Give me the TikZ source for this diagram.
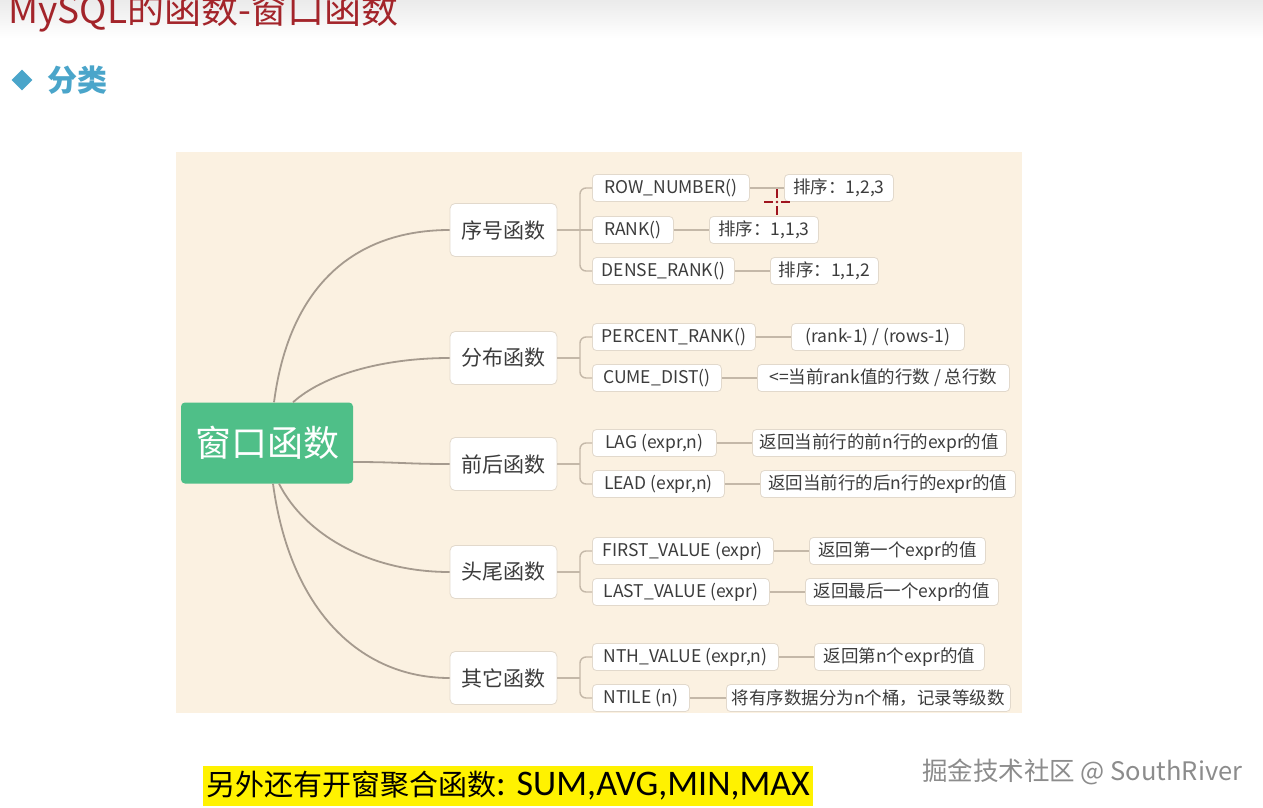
\documentclass[tikz,border=0pt]{standalone}
\usepackage{fontspec}
\setmainfont{Noto Sans CJK SC}
\newfontfamily\carl{Carlito}
\usetikzlibrary{shapes.geometric}
\definecolor{panel}{RGB}{251,241,225}
\definecolor{curvec}{RGB}{165,154,142}
\definecolor{brc}{RGB}{196,184,168}
\definecolor{boxc}{RGB}{226,217,204}
\definecolor{rootc}{RGB}{79,191,136}
\definecolor{titlered}{RGB}{163,36,42}
\definecolor{bluec}{RGB}{74,165,202}
\definecolor{textc}{RGB}{60,60,60}
\definecolor{cursorc}{RGB}{160,20,30}
\definecolor{wmc}{RGB}{140,140,140}
\begin{document}
\begin{tikzpicture}[x=1pt,y=-1pt,
  root/.style={fill=rootc, rounded corners=4, minimum width=172, minimum height=81, text=white, font=\fontsize{36}{40}\selectfont, inner sep=0},
  lone/.style={draw=boxc, fill=white, rounded corners=5, line width=0.8, minimum height=53, minimum width=107, inner sep=0, text=textc, font=\fontsize{21}{25}\selectfont},
  ltwo/.style={draw=boxc, fill=white, rounded corners=4, line width=0.8, minimum height=27, anchor=west, inner sep=0, text=textc, font=\fontsize{17.5}{20}\selectfont},
  curve/.style={draw=curvec, line width=1.8},
  br/.style={draw=brc, line width=1.4},
  cur/.style={draw=cursorc, line width=2.6}
]
\useasboundingbox (0,0) rectangle (1263,808);
\fill[white] (0,0) rectangle (1263,808);
\shade[top color=black!8, bottom color=white] (0,0) rectangle (1263,38);

% title
\node[anchor=base west, inner sep=0, text=titlered, font=\fontsize{37}{40}\selectfont] (title) at (8,24) {MySQL的函数-窗口函数};
\node[diamond, fill=bluec, minimum size=21, inner sep=0] (dia) at (22,80) {};
\node[anchor=west, inner sep=0, text=bluec, font=\fontsize{30}{32}\selectfont\bfseries] (fl) at (47,80) {分类};

% panel
\fill[panel] (176,152) rectangle (1022,713);

% root and level 1
\node[root] (root) at (267,443) {窗口函数};
\node[lone] (xh) at (503.5,230) {序号函数};
\node[lone] (fb) at (503.5,358) {分布函数};
\node[lone] (qh) at (503.5,464) {前后函数};
\node[lone] (tw) at (503.5,572) {头尾函数};
\node[lone] (qt) at (503.5,678) {其它函数};

% curves
\draw[curve] ([xshift=7]root.north) .. controls (290,280) and (360,230) .. (xh.west);
\draw[curve] ([xshift=26]root.north) .. controls (322,376) and (380,358) .. (fb.west);
\draw[curve] (root.east |- 0,462) .. controls (400,462) and (405,464) .. (qh.west);
\draw[curve] ([xshift=12]root.south) .. controls (305,535) and (370,572) .. (tw.west);
\draw[curve] ([xshift=6]root.south) .. controls (290,610) and (360,678) .. (qt.west);

% level 2
\node[ltwo, minimum width=157] (rn) at (592,188) {ROW\_NUMBER()};
\node[ltwo, minimum width=81] (rk) at (592,230) {RANK()};
\node[ltwo, minimum width=142] (dr) at (592,271) {DENSE\_RANK()};
\node[ltwo, minimum width=109] (rnv) at (784,188) {排序：1,2,3};
\node[ltwo, minimum width=109] (rkv) at (709,230) {排序：1,1,3};
\node[ltwo, minimum width=108] (drv) at (770,271) {排序：1,1,2};

\node[ltwo, minimum width=163] (pr) at (592,337) {PERCENT\_RANK()};
\node[ltwo, minimum width=129] (cd) at (592,378) {CUME\_DIST()};
\node[ltwo, minimum width=173] (prv) at (791,337) {(rank-1) / (rows-1)};
\node[ltwo, minimum width=252] (cdv) at (757,378) {<=当前rank值的行数 / 总行数};

\node[ltwo, minimum width=124] (lag) at (592,443) {LAG (expr,n)};
\node[ltwo, minimum width=132] (lead) at (592,484) {LEAD (expr,n)};
\node[ltwo, minimum width=254] (lagv) at (752,443) {返回当前行的前n行的expr的值};
\node[ltwo, minimum width=255] (leadv) at (760,484) {返回当前行的后n行的expr的值};

\node[ltwo, minimum width=181] (fv) at (592,551) {FIRST\_VALUE (expr)};
\node[ltwo, minimum width=177] (lv) at (592,592) {LAST\_VALUE (expr)};
\node[ltwo, minimum width=176] (fvv) at (809,551) {返回第一个expr的值};
\node[ltwo, minimum width=193] (lvv) at (805,592) {返回最后一个expr的值};

\node[ltwo, minimum width=186] (nv) at (592,657) {NTH\_VALUE (expr,n)};
\node[ltwo, minimum width=97] (nt) at (592,698) {NTILE (n)};
\node[ltwo, minimum width=170] (nvv) at (814,657) {返回第n个expr的值};
\node[ltwo, minimum width=284] (ntv) at (726,698) {将有序数据分为n个桶，记录等级数};

% brackets
\coordinate (j1) at (580,230);
\coordinate (j2) at (580,358);
\coordinate (j3) at (580,464);
\coordinate (j4) at (580,572);
\coordinate (j5) at (580,678);
\draw[br] (xh.east) -- (j1) -- (rk.west);
\draw[br, rounded corners=6] (rn.west) -| (j1) |- (dr.west);
\draw[br] (fb.east) -- (j2);
\draw[br, rounded corners=6] (pr.west) -| (j2) |- (cd.west);
\draw[br] (qh.east) -- (j3);
\draw[br, rounded corners=6] (lag.west) -| (j3) |- (lead.west);
\draw[br] (tw.east) -- (j4);
\draw[br, rounded corners=6] (fv.west) -| (j4) |- (lv.west);
\draw[br] (qt.east) -- (j5);
\draw[br, rounded corners=6] (nv.west) -| (j5) |- (nt.west);

% leaf connectors
\draw[br] (rn.east) -- (rnv.west);
\draw[br] (rk.east) -- (rkv.west);
\draw[br] (dr.east) -- (drv.west);
\draw[br] (pr.east) -- (prv.west);
\draw[br] (cd.east) -- (cdv.west);
\draw[br] (lag.east) -- (lagv.west);
\draw[br] (lead.east) -- (leadv.west);
\draw[br] (fv.east) -- (fvv.west);
\draw[br] (lv.east) -- (lvv.west);
\draw[br] (nv.east) -- (nvv.west);
\draw[br] (nt.east) -- (ntv.west);

% cursor
\coordinate (cc) at (777,202);
\draw[cur] ([xshift=-13]cc) -- ([xshift=-4]cc);
\draw[cur] ([xshift=4]cc) -- ([xshift=13]cc);
\draw[cur] ([yshift=13]cc) -- ([yshift=4]cc);
\draw[cur] ([yshift=-4]cc) -- ([yshift=-13]cc);
\fill[cursorc] (cc) circle (1.4);

% bottom note
\node[fill=yellow, anchor=west, inner xsep=3, inner ysep=0, minimum height=40] (note) at (203,786) {\fontsize{29}{32}\selectfont 另外还有开窗聚合函数\carl\fontsize{36}{40}\selectfont: SUM,AVG,MIN,MAX};

% watermark
\node[anchor=west, inner sep=0, text=wmc, font=\fontsize{25.5}{28}\selectfont] (wm) at (922,772) {掘金技术社区 @ SouthRiver};
\end{tikzpicture}
\end{document}
